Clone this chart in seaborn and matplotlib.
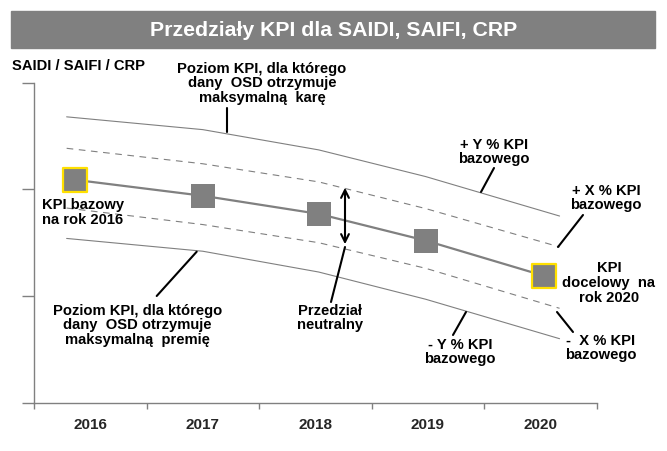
import matplotlib
matplotlib.use('Agg')
import matplotlib.pyplot as plt
import seaborn as sns
from matplotlib.patches import Rectangle, FancyArrowPatch
from matplotlib.lines import Line2D

# values (y in arbitrary units, 0..3)
years = ['2016', '2017', '2018', '2019', '2020']
year_pos = [2016, 2017, 2018, 2019, 2020]

kpi_x = [2015.86, 2017.0, 2018.03, 2018.98, 2020.03]
kpi_y = [2.09, 1.94, 1.77, 1.52, 1.19]

band_x = [2015.79, 2017.0, 2018.03, 2018.98, 2020.17]
plus_y_kpi = [2.68, 2.56, 2.37, 2.12, 1.75]
plus_x_kpi = [2.385, 2.24, 2.07, 1.82, 1.46]
minus_x_kpi = [1.825, 1.67, 1.50, 1.26, 0.885]
minus_y_kpi = [1.54, 1.42, 1.225, 0.97, 0.60]

sns.set_style('white')
plt.rcParams['font.family'] = ['Liberation Sans', 'DejaVu Sans']

W, H = 667, 451
fig = plt.figure(figsize=(W / 100, H / 100), dpi=100)
ax = fig.add_axes([34 / W, 1 - 402.7 / H, (596.7 - 34) / W, (402.7 - 82.7) / H])

gray = '#808080'
yellow = '#FFE000'

sns.lineplot(x=band_x, y=plus_y_kpi, ax=ax, color=gray, lw=0.8, sort=False)
sns.lineplot(x=band_x, y=minus_y_kpi, ax=ax, color=gray, lw=0.8, sort=False)
sns.lineplot(x=band_x, y=plus_x_kpi, ax=ax, color=gray, lw=0.8, sort=False, ls=(0, (6, 5)))
sns.lineplot(x=band_x, y=minus_x_kpi, ax=ax, color=gray, lw=0.8, sort=False, ls=(0, (6, 5)))
sns.lineplot(x=kpi_x, y=kpi_y, ax=ax, color=gray, lw=1.6, sort=False)

sns.scatterplot(x=kpi_x[1:-1], y=kpi_y[1:-1], ax=ax, marker='s', s=300,
                color=gray, edgecolor=gray, linewidth=0, zorder=5)
sns.scatterplot(x=[kpi_x[0], kpi_x[-1]], y=[kpi_y[0], kpi_y[-1]], ax=ax, marker='s',
                s=280, color=gray, edgecolor=yellow, linewidth=1.6, zorder=5)

ax.set_xlim(2015.5, 2020.5)
ax.set_ylim(0, 3)
ax.set_xticks([2015.5 + i for i in range(6)])
ax.set_xticklabels([])
ax.set_xticks(year_pos, years, minor=True)
ax.set_yticks([0, 1, 2, 3])
ax.set_yticklabels([])
ax.tick_params(axis='x', which='major', direction='out', length=4, width=1, color=gray, bottom=True)
ax.tick_params(axis='x', which='minor', length=0, pad=11, labelsize=11)
ax.tick_params(axis='y', direction='out', length=8.5, width=1, color=gray, left=True)
for lab in ax.get_xticklabels(minor=True):
    lab.set_fontweight('bold')
sns.despine(ax=ax)
for s in ['left', 'bottom']:
    ax.spines[s].set_color(gray)
    ax.spines[s].set_linewidth(1)
ax.set_xlabel('')
ax.set_ylabel('')


def fx(x):
    return x / W


def fy(y):
    return 1 - y / H


# title bar
fig.patches.append(Rectangle((fx(11), fy(48)), (655 - 11) / W, (48 - 11) / H,
                             transform=fig.transFigure, color=gray, zorder=0))
fig.text(fx(334), fy(30), 'Przedziały KPI dla SAIDI, SAIFI, CRP', color='white',
         fontsize=15.3, fontweight='bold', ha='center', va='center')

txt = dict(fontsize=10.6, fontweight='bold', color='black', linespacing=1.08)
fig.text(fx(12), fy(66), 'SAIDI / SAIFI / CRP', ha='left', va='center', **txt)
fig.text(fx(262), fy(83.5), 'Poziom KPI, dla którego\ndany  OSD otrzymuje\nmaksymalną  karę',
         ha='center', va='center', **txt)
fig.text(fx(137.5), fy(325.5), 'Poziom KPI, dla którego\ndany  OSD otrzymuje\nmaksymalną  premię',
         ha='center', va='center', **txt)
fig.text(fx(330), fy(318), 'Przedział\nneutralny', ha='center', va='center', **txt)
fig.text(fx(494), fy(152), '+ Y % KPI\nbazowego', ha='center', va='center', **txt)
fig.text(fx(606), fy(198), '+ X % KPI\nbazowego', ha='center', va='center', **txt)
fig.text(fx(609), fy(283), 'KPI\ndocelowy  na\nrok 2020', ha='center', va='center', **txt)
fig.text(fx(42), fy(212.5), 'KPI bazowy\nna rok 2016', ha='left', va='center', **txt)
fig.text(fx(460), fy(352), '- Y % KPI\nbazowego', ha='center', va='center', **txt)
fig.text(fx(601), fy(348), '-  X % KPI\nbazowego', ha='center', va='center', **txt)

# leader lines
leaders = [((226.7, 108), (226.7, 131.7)), ((494, 168), (481, 192)),
           ((583, 215), (558, 247)), ((345, 247), (331, 302)),
           ((156.7, 296), (196.7, 251.7)), ((453, 335), (466, 312)),
           ((573, 332), (557, 312))]
for (x0, y0), (x1, y1) in leaders:
    fig.add_artist(Line2D([fx(x0), fx(x1)], [fy(y0), fy(y1)], transform=fig.transFigure,
                          color='black', lw=1.5))

fig.add_artist(FancyArrowPatch((fx(345), fy(185)), (fx(345), fy(247)),
                               transform=fig.transFigure, arrowstyle='<->',
                               mutation_scale=14, color='black', lw=1.5))

fig.savefig('out.png', dpi=100)
